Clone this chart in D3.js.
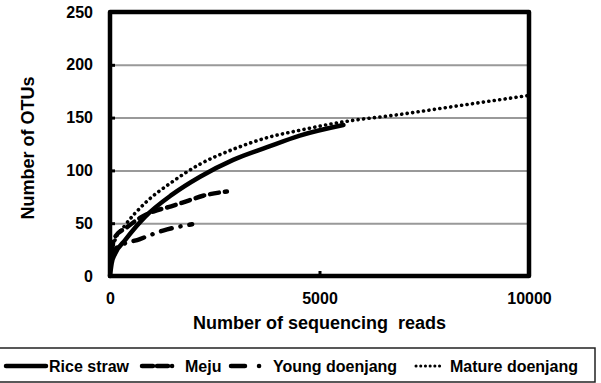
<!DOCTYPE html>
<html>
<head>
<meta charset="utf-8">
<script src="https://cdn.jsdelivr.net/npm/d3@7"></script>
<style>
  body { margin: 0; background: #fff; }
  text { font-family: "Liberation Sans", Arial, sans-serif; font-weight: bold; fill: #000; }
</style>
</head>
<body>
<div id="chart"></div>
<script>
// rarefaction curves: reads vs OTUs
var riceReads   = [0, 40, 120, 360, 835, 1480, 2150, 2940, 3750, 4530, 5570];
var riceOtus    = [0, 12, 21, 34, 56, 77, 94, 110, 122, 133, 143];
var mejuReads   = [30, 120, 400, 715, 1030, 1460, 1840, 2220, 2790];
var mejuOtus    = [24, 37, 46, 55, 61, 66, 71, 76, 80];
var youngReads  = [30, 170, 715, 1265, 1960];
var youngOtus   = [18, 27, 35, 43, 49];
var matureReads = [40, 120, 360, 835, 1480, 2150, 2940, 3750, 4530, 5570, 6920, 8110, 9310, 10000];
var matureOtus  = [24, 34, 48, 69, 89, 106, 120, 131, 138, 146, 153, 160, 167, 171];

var seriesNames = ["Rice straw", "Meju", "Young doenjang", "Mature doenjang"];
var xTicks = [0, 5000, 10000];
var yTicks = [0, 50, 100, 150, 200, 250];

var w = 601, h = 383;
var pLeft = 110, pRight = 529, pTop = 12, pBottom = 276;

var svg = d3.select("#chart").append("svg")
    .attr("width", w)
    .attr("height", h);

var x = d3.scaleLinear().domain([0, 10000]).range([pLeft, pRight]);
var y = d3.scaleLinear().domain([0, 250]).range([pBottom, pTop]);

//gray gridlines
svg.append("g")
    .attr("transform", "translate(" + pLeft + ",0)")
    .call(d3.axisLeft(y).tickValues(yTicks.slice(1, -1)).tickSize(-(pRight - pLeft)).tickFormat(""))
    .call(function(g) { g.select(".domain").remove(); })
    .selectAll("line")
    .attr("stroke", "#999")
    .attr("stroke-width", 2);

//series styles
var styles = [
  { dash: null,         width: 4.5 },
  { dash: "9,6",        width: 4.5 },
  { dash: "11,9,0.1,9", width: 4.5 },
  { dash: "0.1,5.4",    width: 3.6 }
];
var seriesData = [
  d3.zip(riceReads, riceOtus),
  d3.zip(mejuReads, mejuOtus),
  d3.zip(youngReads, youngOtus),
  d3.zip(matureReads, matureOtus)
];

var line = d3.line()
    .x(function(d) { return x(d[0]); })
    .y(function(d) { return y(d[1]); })
    .curve(d3.curveMonotoneX);

svg.append("g").selectAll("path")
    .data(seriesData)
  .enter().append("path")
    .attr("d", line)
    .attr("fill", "none")
    .attr("stroke", "#000")
    .attr("stroke-width", function(d, i) { return styles[i].width; })
    .attr("stroke-linecap", "round")
    .attr("stroke-dasharray", function(d, i) { return styles[i].dash; });

//axes with short inner ticks
var yAxis = svg.append("g")
    .attr("transform", "translate(" + pLeft + ",0)")
    .call(d3.axisLeft(y).tickValues(yTicks).tickSize(-5).tickPadding(17));
yAxis.select(".domain").remove();
yAxis.selectAll("line").attr("stroke", "#000").attr("stroke-width", 3);
yAxis.selectAll("text").attr("font-family", null);

var xAxis = svg.append("g")
    .attr("transform", "translate(0," + pBottom + ")")
    .call(d3.axisBottom(x).tickValues(xTicks).tickSize(-5).tickPadding(17).tickFormat(d3.format("d")));
xAxis.select(".domain").remove();
xAxis.selectAll("line").attr("stroke", "#000").attr("stroke-width", 3);
xAxis.selectAll("text").attr("font-family", null);
svg.selectAll(".tick text").style("font-size", "16px");

//plot frame
svg.append("rect")
    .attr("x", pLeft)
    .attr("y", pTop)
    .attr("width", pRight - pLeft)
    .attr("height", pBottom - pTop)
    .attr("fill", "none")
    .attr("stroke", "#000")
    .attr("stroke-width", 4.5)
    .attr("stroke-linejoin", "round");

//axis titles
svg.append("text")
    .text("Number of sequencing  reads")
    .attr("x", (pLeft + pRight) / 2)
    .attr("y", 329)
    .attr("text-anchor", "middle")
    .attr("font-size", 18)
    .style("white-space", "pre");

svg.append("text")
    .text("Number of OTUs")
    .attr("transform", "translate(34,148) rotate(-90)")
    .attr("text-anchor", "middle")
    .attr("font-size", 18);

//legend
var lg = svg.append("g");
lg.append("rect")
    .attr("x", -2)
    .attr("y", 348)
    .attr("width", 597)
    .attr("height", 34)
    .attr("fill", "none")
    .attr("stroke", "#222")
    .attr("stroke-width", 1.5);

var legendSym = [[6, 46], [142, 182], [231, 263], [416, 440]];
var legendText = [49, 185, 273, 450];
var legendDash = [null, "11,4,11,4,0.1", "14,14,0.1", "0.1,4.6"];

seriesNames.forEach(function(name, i) {
  lg.append("line")
    .attr("x1", legendSym[i][0])
    .attr("x2", legendSym[i][1])
    .attr("y1", 366)
    .attr("y2", 366)
    .attr("stroke", "#000")
    .attr("stroke-width", i == 3 ? 3 : 4.5)
    .attr("stroke-linecap", "round")
    .attr("stroke-dasharray", legendDash[i]);
  lg.append("text")
    .text(name)
    .attr("x", legendText[i])
    .attr("y", 372)
    .attr("font-size", 16);
});
</script>
</body>
</html>
